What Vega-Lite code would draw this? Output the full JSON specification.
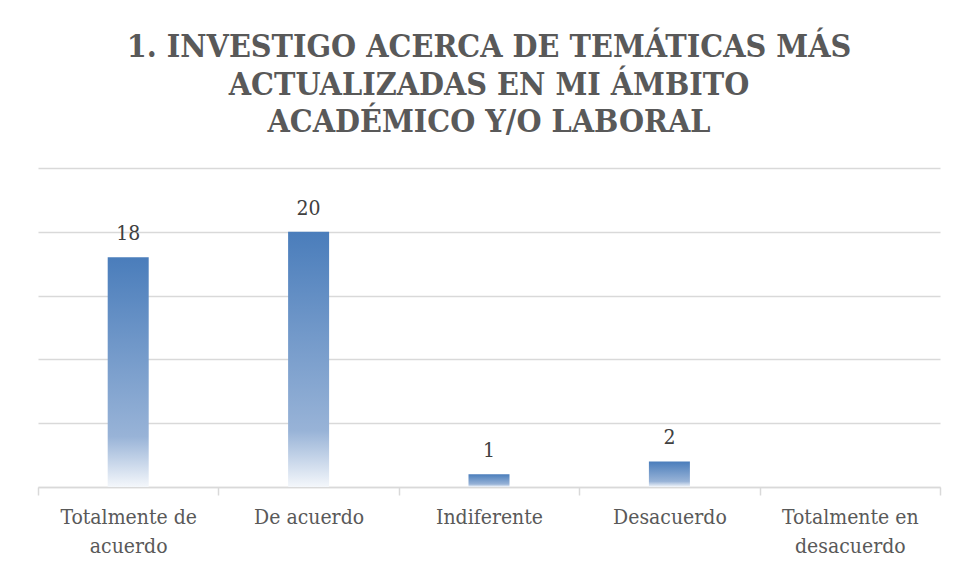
{
  "$schema": "https://vega.github.io/schema/vega-lite/v6.json",
  "autosize": "none",
  "width": 902,
  "height": 319,
  "padding": {"left": 38, "top": 168, "right": 19, "bottom": 90},
  "background": "white",
  "config": {"view": {"stroke": null}},
  "title": {
    "text": ["1. INVESTIGO ACERCA DE TEMÁTICAS MÁS", "ACTUALIZADAS EN MI ÁMBITO", "ACADÉMICO Y/O LABORAL"],
    "font": "DejaVu Serif Condensed",
    "fontSize": 32,
    "fontWeight": "bold",
    "color": "#595959",
    "lineHeight": 37.5,
    "anchor": "middle",
    "offset": 29
  },
  "data": {
    "values": [
      {"categoria": "Totalmente de acuerdo", "n": 18},
      {"categoria": "De acuerdo", "n": 20},
      {"categoria": "Indiferente", "n": 1},
      {"categoria": "Desacuerdo", "n": 2},
      {"categoria": "Totalmente en desacuerdo", "n": 0}
    ]
  },
  "encoding": {
    "x": {
      "field": "categoria",
      "type": "nominal",
      "sort": null,
      "scale": {"paddingInner": 0, "paddingOuter": 0},
      "axis": {
        "title": null,
        "labelAngle": 0,
        "labelFont": "DejaVu Serif Condensed",
        "labelFontSize": 21,
        "labelColor": "#595959",
        "labelLineHeight": 29,
        "labelPadding": 11,
        "labelLimit": 0,
        "labelExpr": "datum.label == 'Totalmente de acuerdo' ? ['Totalmente de', 'acuerdo'] : datum.label == 'Totalmente en desacuerdo' ? ['Totalmente en', 'desacuerdo'] : datum.label",
        "domainColor": "#d9d9d9",
        "domainWidth": 1.5,
        "tickColor": "#d9d9d9",
        "tickWidth": 1.5,
        "tickSize": 8,
        "tickBand": "extent",
        "grid": false
      }
    },
    "y": {
      "field": "n",
      "type": "quantitative",
      "scale": {"domain": [0, 25]},
      "axis": {
        "title": null,
        "labels": false,
        "ticks": false,
        "domain": false,
        "values": [0, 5, 10, 15, 20, 25],
        "grid": true,
        "gridColor": "#d9d9d9",
        "gridWidth": 1.3
      }
    }
  },
  "layer": [
    {
      "mark": {
        "type": "bar",
        "size": 41,
        "color": {
          "gradient": "linear",
          "x1": 0, "y1": 0, "x2": 0, "y2": 1,
          "stops": [
            {"offset": 0, "color": "#4a7dbb"},
            {"offset": 0.78, "color": "#98b3d7"},
            {"offset": 1, "color": "#f4f7fb"}
          ]
        }
      }
    },
    {
      "transform": [{"filter": "datum.n > 0"}],
      "mark": {
        "type": "text",
        "baseline": "alphabetic",
        "dy": -17,
        "font": "DejaVu Serif Condensed",
        "fontSize": 21,
        "color": "#404040"
      },
      "encoding": {"text": {"field": "n", "type": "quantitative"}}
    }
  ]
}
